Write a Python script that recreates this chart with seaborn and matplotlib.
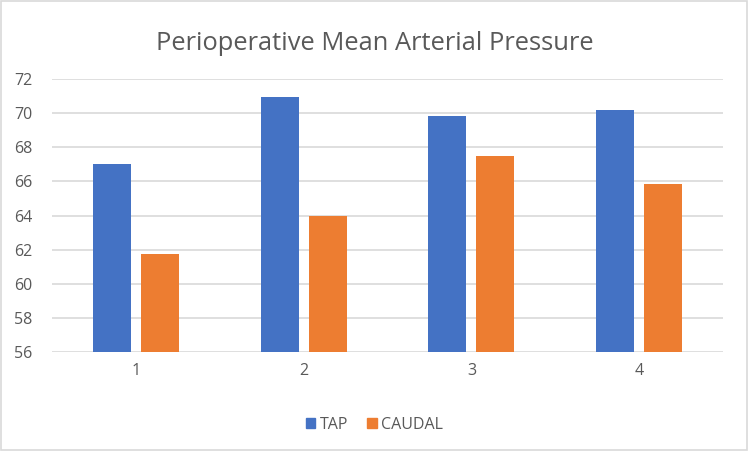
import matplotlib
matplotlib.use("Agg")
import matplotlib.pyplot as plt
import seaborn as sns
import pandas as pd
from matplotlib.patches import Rectangle

categories = ["1", "2", "3", "4"]
tap = [67.0, 70.92, 69.86, 70.16]
caudal = [61.75, 63.99, 67.49, 65.83]
series_names = ["TAP", "CAUDAL"]
yticks = [56, 58, 60, 62, 64, 66, 68, 70, 72]
title = "Perioperative Mean Arterial Pressure"

df = pd.DataFrame({
    "cat": categories * 2,
    "value": tap + caudal,
    "series": [series_names[0]] * 4 + [series_names[1]] * 4,
})

sns.set_theme(style="white")
plt.rcParams["font.family"] = ["Open Sans", "DejaVu Sans"]

fig = plt.figure(figsize=(7.49, 4.51), dpi=100)
ax = fig.add_axes([52 / 749, 1 - 352 / 451, 671 / 749, 273 / 451])

palette = {"TAP": "#4472C4", "CAUDAL": "#ED7D31"}
sns.barplot(data=df, x="cat", y="value", hue="series", palette=palette,
            width=0.571, gap=0.208, ax=ax, saturation=1, legend=False,
            linewidth=0, zorder=3)

ax.set_ylim(56, 72)
ax.set_yticks(yticks)
ax.set_yticklabels([str(t) for t in yticks])
ax.yaxis.grid(True, color="#D9D9D9", linewidth=1.2, zorder=0)
ax.set_axisbelow(True)
for s in ax.spines.values():
    s.set_visible(False)
ax.tick_params(axis="both", length=0, labelsize=11.5, colors="#595959")
ax.tick_params(axis="y", pad=14)
ax.tick_params(axis="x", pad=8)
ax.set_xlabel("")
ax.set_ylabel("")

fig.text(0.5, 1 - 43 / 451, title, ha="center", va="center",
         fontsize=18.4, color="#595959")

handles = [Rectangle((0, 0), 1, 1, color=palette[n]) for n in series_names]
fig.legend(handles, series_names, loc="center", bbox_to_anchor=(0.5, 1 - 425 / 451),
           ncol=2, frameon=False, fontsize=11.5, labelcolor="#595959",
           handlelength=0.6, handleheight=0.6, handletextpad=0.3, columnspacing=1.15)

border = Rectangle((0.002, 0.003), 0.995, 0.994, transform=fig.transFigure,
                   fill=False, edgecolor="#D9D9D9", linewidth=1.2)
fig.patches.append(border)

fig.savefig("out.png", dpi=100, facecolor="white")
